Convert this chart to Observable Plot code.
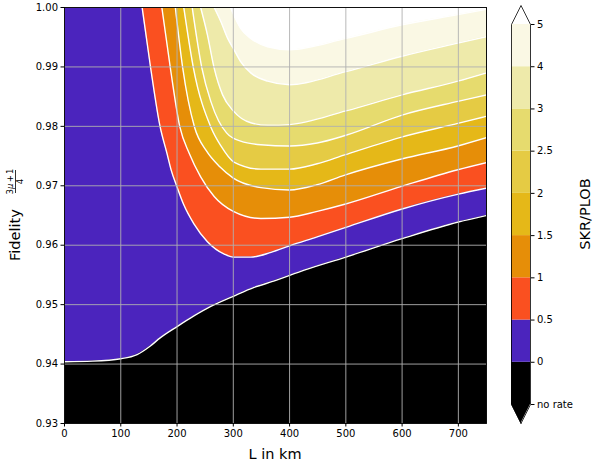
<!DOCTYPE html>
<html>
<head>
<meta charset="utf-8">
<script src="https://cdn.jsdelivr.net/npm/d3@7"></script>
<script src="https://cdn.jsdelivr.net/npm/@observablehq/plot@0.6"></script>
<style>
  body { margin: 0; background: #fff; }
  #wrap { position: relative; width: 593px; height: 464px; font-family: "DejaVu Sans", sans-serif; }
  #wrap svg { position: absolute; top: 0; }
</style>
</head>
<body>
<div id="wrap"></div>
<script>
// Contour boundaries of SKR/PLOB: [L in km, fidelity] along each level line
const boundary0 = [[0,0.9404],[50,0.9405],[100,0.9409],[129,0.9416],[152,0.9430],[170,0.9444],[200,0.9463],[230,0.9481],[260,0.9497],[300,0.9514],[337,0.9529],[373,0.9540],[426,0.9558],[500,0.9580],[600,0.9611],[700,0.9639],[750,0.9650]];
const boundary05 = [[138,1.0],[153,0.9899],[170,0.9799],[182,0.9755],[190,0.9725],[200,0.9698],[212,0.9668],[230,0.9636],[254,0.9606],[284,0.9585],[300,0.9580],[331,0.9580],[367,0.9588],[400,0.9599],[449,0.9614],[500,0.9630],[600,0.9661],[700,0.9686],[750,0.9696]];
const boundary1 = [[173,1.0],[188,0.9899],[205,0.9799],[222,0.9754],[242,0.9715],[266,0.9682],[300,0.9657],[349,0.9645],[400,0.9647],[449,0.9657],[498,0.9669],[599,0.9699],[699,0.9727],[750,0.9739]];
const boundary15 = [[197,1.0],[210,0.9899],[231,0.9799],[252,0.9759],[276,0.9732],[300,0.9713],[349,0.9697],[400,0.9693],[449,0.9702],[498,0.9718],[599,0.9745],[699,0.9767],[750,0.9781]];
const boundary2 = [[212,1.0],[229,0.9899],[260,0.9799],[278,0.9767],[301,0.9740],[349,0.9728],[400,0.9728],[449,0.9737],[498,0.9752],[599,0.9782],[699,0.9805],[750,0.9817]];
const boundary25 = [[227,1.0],[244,0.9899],[260,0.9842],[274,0.9809],[288,0.9789],[313,0.9775],[349,0.9769],[400,0.9767],[449,0.9772],[500,0.9785],[600,0.9819],[699,0.9842],[750,0.9853]];
const boundary3 = [[242,1.0],[254,0.9954],[266,0.9898],[281,0.9853],[300,0.9826],[331,0.9806],[361,0.9802],[400,0.9803],[500,0.9826],[600,0.9853],[699,0.9876],[750,0.9890]];
const boundary4 = [[266,1.0],[278,0.9976],[290,0.9948],[300,0.9931],[313,0.9909],[331,0.9890],[361,0.9876],[400,0.9870],[500,0.9892],[600,0.9918],[699,0.9940],[750,0.9951]];
const boundary5 = [[295,1.0],[301,0.9987],[313,0.9965],[331,0.9948],[361,0.9934],[400,0.9929],[500,0.9948],[600,0.9971],[699,0.9988],[750,0.9997]];

// Levels and band colours (lowest band = no rate)
const levelLabels = ["no rate", "0", "0.5", "1", "1.5", "2", "2.5", "3", "4", "5"];
const bandColors = ["#000000", "#4b24bd", "#fa5020", "#e68e08", "#e5b818", "#e5cb44", "#e6db6e", "#eeeaaa", "#faf8e4", "#ffffff"];

const xTicks = [0, 100, 200, 300, 400, 500, 600, 700];
const yTicks = [0.93, 0.94, 0.95, 0.96, 0.97, 0.98, 0.99, 1.00];
const xDomain = [0, 750];
const yDomain = [0.93, 1.00];

const boundaries = [boundary0, boundary05, boundary1, boundary15, boundary2, boundary25, boundary3, boundary4, boundary5];

const font = {fontFamily: "DejaVu Sans, sans-serif", fontSize: "10px", color: "black", background: "transparent"};

const main = Plot.plot({
  width: 500,
  height: 464,
  marginLeft: 64,
  marginRight: 14,
  marginTop: 7,
  marginBottom: 41,
  x: {domain: xDomain},
  y: {domain: yDomain},
  style: font,
  marks: [
    Plot.frame({fill: bandColors[0]}),
    ...boundaries.map((b, i) => Plot.areaY(b, {
      x: d => d[0], y1: d => d[1], y2: () => yDomain[1],
      fill: bandColors[i + 1], curve: "monotone-x", clip: true
    })),
    ...boundaries.map(b => Plot.line(b, {
      x: d => d[0], y: d => d[1], stroke: "white", strokeWidth: 1.4, curve: "monotone-x", clip: true
    })),
    Plot.gridX(xTicks, {stroke: "#b0b0b0", strokeOpacity: 1, strokeWidth: 0.9}),
    Plot.gridY(yTicks, {stroke: "#b0b0b0", strokeOpacity: 1, strokeWidth: 0.9}),
    Plot.frame({stroke: "black", strokeWidth: 0.9}),
    Plot.axisX(xTicks, {tickSize: 3.5, tickPadding: 3, label: null}),
    Plot.axisY(yTicks, {tickSize: 3.5, tickPadding: 3, tickFormat: d3.format(".2f"), label: null})
  ]
});

// Axis titles
const ms = d3.select(main);
ms.append("text")
  .attr("x", 275).attr("y", 459)
  .attr("text-anchor", "middle")
  .attr("font-size", 14.5).attr("fill", "black")
  .text("L in km");
ms.append("text")
  .attr("transform", "translate(19.5,261) rotate(-90)")
  .attr("text-anchor", "start")
  .attr("font-size", 14.5).attr("fill", "black")
  .text("Fidelity");
// fraction (3μ + 1) / 4 next to the title
const num = ms.append("text")
  .attr("transform", "translate(12.5,181.5) rotate(-90)")
  .attr("text-anchor", "middle").attr("font-size", 8.5).attr("fill", "black");
num.append("tspan").text("3");
num.append("tspan").attr("font-style", "italic").text("μ");
num.append("tspan").attr("dx", 1.2).text("+");
num.append("tspan").attr("dx", 1.2).text("1");
ms.append("line")
  .attr("x1", 15.5).attr("x2", 15.5).attr("y1", 170).attr("y2", 193)
  .attr("stroke", "black").attr("stroke-width", 0.8);
ms.append("text")
  .attr("transform", "translate(23,181.5) rotate(-90)")
  .attr("text-anchor", "middle").attr("font-size", 8.5).attr("fill", "black")
  .text("4");

// Colorbar: one band per level interval, extended at both ends
const ext = 0.45;
const bandIndex = d3.range(levelLabels.length);
const segments = bandIndex.slice(0, -1).map(i => ({lo: i, hi: i + 1, color: bandColors[i]}));
const topIdx = levelLabels.length - 1;
const lowTri = [{x: 0, y1: 0, y2: 0}, {x: 0.5, y1: -ext, y2: 0}, {x: 1, y1: 0, y2: 0}];
const highTri = [{x: 0, y1: topIdx, y2: topIdx}, {x: 0.5, y1: topIdx, y2: topIdx + ext}, {x: 1, y1: topIdx, y2: topIdx}];
const outline = [[0.5, -ext], [0, 0], [0, topIdx], [0.5, topIdx + ext], [1, topIdx], [1, 0], [0.5, -ext]];

const cbar = Plot.plot({
  width: 103,
  height: 464,
  marginLeft: 21,
  marginRight: 63,
  marginTop: 5,
  marginBottom: 41,
  x: {domain: [0, 1], axis: null},
  y: {domain: [-ext, topIdx + ext]},
  color: {type: "identity"},
  style: font,
  marks: [
    Plot.rect(segments, {x1: 0, x2: 1, y1: "lo", y2: "hi", fill: "color"}),
    Plot.areaY(lowTri, {x: "x", y1: "y1", y2: "y2", fill: bandColors[0]}),
    Plot.areaY(highTri, {x: "x", y1: "y1", y2: "y2", fill: bandColors[topIdx]}),
    Plot.line(outline, {x: d => d[0], y: d => d[1], stroke: "black", strokeWidth: 0.8}),
    Plot.axisY(bandIndex, {anchor: "right", tickSize: 3.5, tickPadding: 3, tickFormat: i => levelLabels[i], label: null})
  ]
});
d3.select(cbar).append("text")
  .attr("transform", "translate(100,214) rotate(-90)")
  .attr("text-anchor", "middle").attr("font-size", 14.5).attr("fill", "black")
  .text("SKR/PLOB");

const wrap = document.getElementById("wrap");
main.style.left = "0px";
cbar.style.left = "490px";
wrap.appendChild(main);
wrap.appendChild(cbar);
</script>
</body>
</html>
